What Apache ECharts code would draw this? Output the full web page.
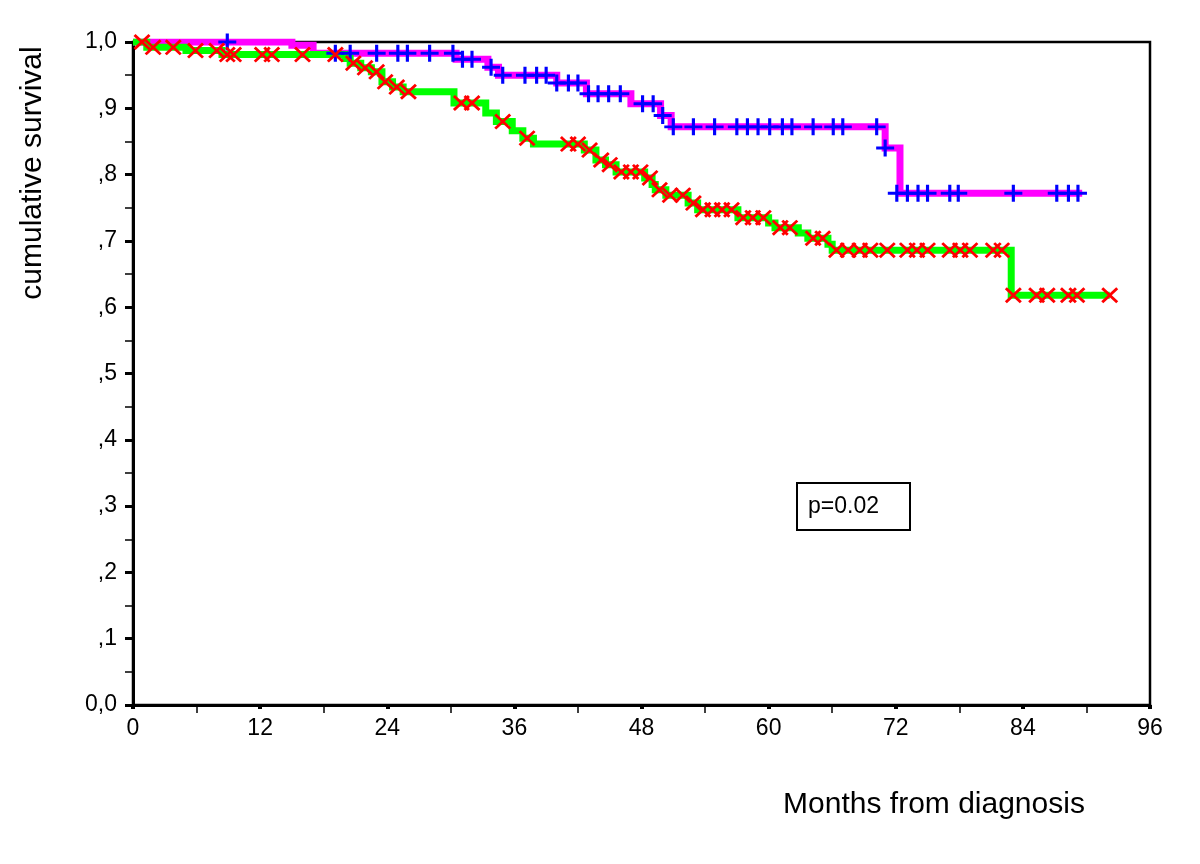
<!DOCTYPE html>
<html>
<head>
<meta charset="utf-8">
<script src="https://cdn.jsdelivr.net/npm/echarts@6/dist/echarts.min.js"></script>
<style>
html,body{margin:0;padding:0;background:#fff;}
#chart{width:1200px;height:864px;}
</style>
</head>
<body>
<div id="chart"></div>
<script>
// ---- Data ----
// Group 1: survival curve (magenta) step points: [month, cumulative survival]
const group1StepMonths = [0, 15, 17, 30.5, 33.5, 34.5, 40, 42.8, 47, 49.8, 50.8, 71, 72.4, 89.6];
const group1StepSurv   = [1.0, 0.995, 0.983, 0.974, 0.962, 0.950, 0.938, 0.922, 0.907, 0.889, 0.872, 0.840, 0.772, 0.772];

// Group 1 censored observations (blue +)
const group1CensorMonths = [8.9, 19.1, 20.5, 23, 25, 25.9, 28, 30.2, 31.1, 32, 33.8, 34.9, 37, 38.1, 39,
  40, 41.1, 42, 43, 43.9, 44.9, 46, 48.1, 49.1, 50,
  51, 52.9, 54.9, 57, 58, 59, 60.1, 61.3, 62.2, 64.2, 66.1, 67, 70.2, 71,
  72.1, 73.1, 74.1, 75, 77.1, 77.9, 83.1, 87.2, 88.3, 89.2];
const group1CensorSurv = [1.0, 0.983, 0.983, 0.983, 0.983, 0.983, 0.983, 0.983, 0.974, 0.974, 0.962, 0.950, 0.950, 0.950, 0.950,
  0.938, 0.938, 0.938, 0.922, 0.922, 0.922, 0.922, 0.907, 0.907, 0.889,
  0.872, 0.872, 0.872, 0.872, 0.872, 0.872, 0.872, 0.872, 0.872, 0.872, 0.872, 0.872, 0.872, 0.840,
  0.772, 0.772, 0.772, 0.772, 0.772, 0.772, 0.772, 0.772, 0.772, 0.772];

// Group 2: survival curve (green) step points
const group2StepMonths = [0, 1.3, 5, 8.4, 20, 20.5, 21.5, 22.5, 23.5, 24.5, 25.5, 30.3, 33.3, 34.3, 35.8, 36.8, 37.8,
  42.6, 43.7, 44.6, 45.6, 48.3, 49.0, 49.3, 50.3, 52.4, 53.3, 57.1, 60.0, 60.6, 62.8, 63.7, 65.6, 66.0, 82.9, 92.2];
const group2StepSurv   = [1.0, 0.992, 0.987, 0.981, 0.975, 0.968, 0.961, 0.955, 0.940, 0.932, 0.925, 0.908, 0.893, 0.880, 0.866, 0.855, 0.846,
  0.837, 0.822, 0.815, 0.804, 0.795, 0.785, 0.777, 0.769, 0.757, 0.747, 0.735, 0.727, 0.720, 0.712, 0.704, 0.695, 0.686, 0.618, 0.618];

// Group 2 censored observations (red x)
const group2CensorMonths = [0.85, 1.9, 3.8, 5.9, 7.9, 8.9, 9.5, 12.2, 13.1, 16, 19.1, 20.8, 21.9, 23, 23.8, 24.9, 26,
  31, 32, 34.9, 37.2, 41.1, 42, 43.1, 44.2, 45, 46.1, 47, 47.9, 48.8, 49.7, 50.7, 51.9, 52.9,
  53.8, 54.7, 55.6, 56.5, 57.6, 58.5, 59.5, 61.1, 62, 64.2, 65.1,
  66.4, 67.5, 68.6, 69.6, 71.2, 73.1, 74, 75, 77.1, 78.1, 79, 81.2, 82,
  83.1, 85.3, 86.3, 88.3, 89.1, 92.2];
const group2CensorSurv = [1.0, 0.992, 0.992, 0.987, 0.987, 0.981, 0.981, 0.981, 0.981, 0.981, 0.981, 0.968, 0.961, 0.955, 0.940, 0.932, 0.925,
  0.908, 0.908, 0.880, 0.855, 0.846, 0.846, 0.837, 0.822, 0.815, 0.804, 0.804, 0.804, 0.795, 0.777, 0.769, 0.769, 0.757,
  0.747, 0.747, 0.747, 0.747, 0.735, 0.735, 0.735, 0.720, 0.720, 0.704, 0.704,
  0.686, 0.686, 0.686, 0.686, 0.686, 0.686, 0.686, 0.686, 0.686, 0.686, 0.686, 0.686, 0.686,
  0.618, 0.618, 0.618, 0.618, 0.618, 0.618];

// Axis tick labels
const xTickLabels = ['0','12','24','36','48','60','72','84','96'];
const yTickLabels = ['0,0',',1',',2',',3',',4',',5',',6',',7',',8',',9','1,0'];
const yAxisTitle = 'cumulative survival';
const xAxisTitle = 'Months from diagnosis';
const pValueText = 'p=0.02';

// ---- Build chart ----
const zip = (a, b) => a.map((v, i) => [v, b[i]]);
const PLUS = 'path://M6.6,0h2.8v6.6h6.6v2.8h-6.6v6.6h-2.8v-6.6h-6.6v-2.8h6.6z';
const CROSS = 'path://M0,1.9L1.9,0L8,6.1L14.1,0L16,1.9L9.9,8L16,14.1L14.1,16L8,9.9L1.9,16L0,14.1L6.1,8Z';
const FONT = '"Liberation Sans", Arial, sans-serif';

const chart = echarts.init(document.getElementById('chart'), null, {renderer: 'canvas'});
chart.setOption({
  animation: false,
  backgroundColor: '#fff',
  grid: {left: 133, right: 50, top: 42, bottom: 159, show: true, borderColor: '#000', borderWidth: 2.5, backgroundColor: 'transparent'},
  xAxis: {
    type: 'value', min: 0, max: 96, interval: 12,
    axisLine: {show: true, onZero: false, lineStyle: {color: '#000', width: 3}},
    axisTick: {show: true, length: 4, lineStyle: {color: '#000', width: 4}},
    minorTick: {show: true, splitNumber: 2, length: 8, lineStyle: {color: '#000', width: 1.5}},
    splitLine: {show: false},
    axisLabel: {
      color: '#000', fontSize: 23, fontFamily: FONT, margin: 12,
      formatter: v => xTickLabels[Math.round(v / 12)] ?? ''
    }
  },
  yAxis: {
    type: 'value', min: 0, max: 1, interval: 0.1,
    axisLine: {show: true, onZero: false, lineStyle: {color: '#000', width: 3}},
    axisTick: {show: true, length: 8, lineStyle: {color: '#000', width: 3}},
    minorTick: {show: true, splitNumber: 2, length: 8, lineStyle: {color: '#000', width: 1.5}},
    splitLine: {show: false},
    axisLabel: {
      color: '#000', fontSize: 23, fontFamily: FONT, margin: 16,
      formatter: v => yTickLabels[Math.round(v * 10)] ?? ''
    }
  },
  series: [
    {
      type: 'line', step: 'end', showSymbol: false, symbol: 'none',
      data: zip(group1StepMonths, group1StepSurv),
      lineStyle: {color: '#ff00ff', width: 7, cap: 'butt', join: 'miter'},
      z: 2
    },
    {
      type: 'line', step: 'end', showSymbol: false, symbol: 'none',
      data: zip(group2StepMonths, group2StepSurv),
      lineStyle: {color: '#00ff00', width: 7, cap: 'butt', join: 'miter'},
      z: 3
    },
    {
      type: 'scatter', symbol: PLUS, symbolSize: [18, 17],
      data: zip(group1CensorMonths, group1CensorSurv),
      itemStyle: {color: '#0000ff', opacity: 1},
      z: 4
    },
    {
      type: 'scatter', symbol: CROSS, symbolSize: [17, 16],
      data: zip(group2CensorMonths, group2CensorSurv),
      itemStyle: {color: '#ff0000', opacity: 1},
      z: 5
    }
  ],
  graphic: [
    {
      type: 'text', x: 33, y: 173, rotation: Math.PI / 2,
      style: {text: yAxisTitle, font: '30px ' + FONT, fill: '#000', align: 'center', verticalAlign: 'middle'}
    },
    {
      type: 'text', x: 934, y: 805,
      style: {text: xAxisTitle, font: '30px ' + FONT, fill: '#000', align: 'center', verticalAlign: 'middle'}
    },
    {
      type: 'rect', shape: {x: 797, y: 483, width: 113, height: 47},
      style: {fill: '#fff', stroke: '#000', lineWidth: 2}
    },
    {
      type: 'text', x: 808, y: 507,
      style: {text: pValueText, font: '23px ' + FONT, fill: '#000', align: 'left', verticalAlign: 'middle'}
    }
  ]
});
</script>
</body>
</html>
